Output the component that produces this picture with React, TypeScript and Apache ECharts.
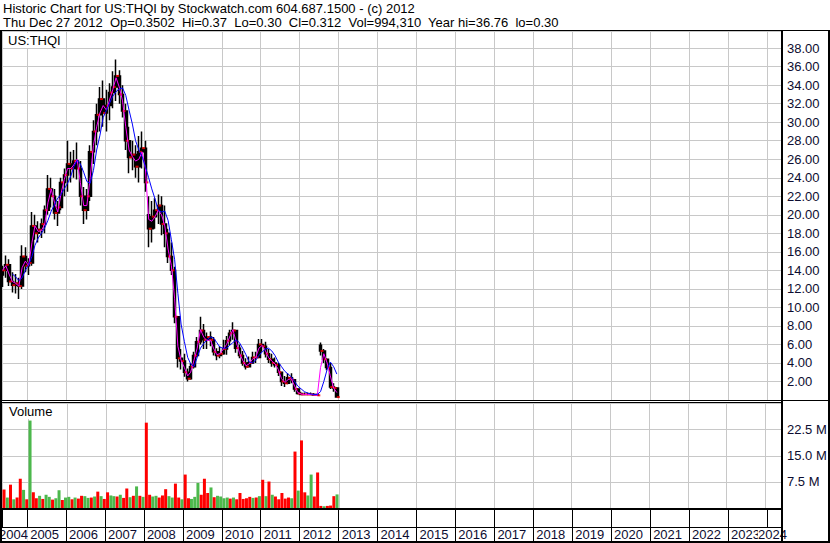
import React, { useEffect, useRef } from 'react';
import * as echarts from 'echarts';

// ---------- data (monthly, May 2004 .. Dec 2012) ----------
const FIRST_YEAR = 2004;
const FIRST_MONTH = 4; // May (0-based)

const opens = [
  13.5, 14.0, 14.6, 12.8, 12.4, 12.6, 12.3, 15.5,
  14.5, 14.8, 18.8, 18.0, 18.4, 19.0, 20.5, 22.8, 22.0, 20.2, 20.8, 23.5,
  24.3, 25.5, 25.0, 25.8, 25.0, 22.0, 20.5, 22.0, 26.8, 29.0, 30.8, 32.5,
  31.0, 31.8, 33.2, 33.8, 35.0, 33.0, 31.2, 28.0, 26.2, 26.5, 25.2, 26.8,
  27.2, 20.0, 18.5, 19.8, 20.5, 21.0, 19.0, 18.0, 15.5, 14.0, 9.0, 4.5,
  4.2, 3.0, 2.3, 3.6, 4.8, 6.3, 7.5, 6.5, 6.8, 6.5, 5.2, 4.8,
  5.0, 5.5, 6.4, 7.2, 7.5, 5.6, 4.8, 4.0, 3.6, 4.0, 4.6, 4.6,
  6.0, 5.8, 5.0, 4.4, 4.0, 3.8, 3.0, 2.0, 1.8, 2.4, 2.2, 1.2,
  0.7, 0.6, 0.6, 0.6, 0.6, 0.55, 5.9, 5.3, 4.4, 3.5, 1.4, 1.3,
];
const highs = [
  14.5, 15.6, 15.2, 13.8, 13.6, 13.2, 16.7, 16.5,
  15.3, 20.3, 20.0, 19.3, 19.6, 21.0, 24.3, 24.0, 22.8, 21.5, 24.0, 25.0,
  28.0, 26.8, 27.0, 27.8, 25.8, 23.0, 22.8, 27.5, 30.2, 32.0, 33.8, 34.5,
  33.5, 34.2, 35.5, 36.76, 35.6, 34.0, 32.0, 29.5, 28.0, 27.5, 28.5, 29.0,
  28.0, 22.0, 21.5, 21.8, 22.2, 22.0, 21.0, 18.5, 17.0, 14.4, 9.0, 5.5,
  5.0, 3.4, 4.0, 5.2, 6.8, 9.0, 8.2, 7.3, 7.4, 6.8, 5.6, 5.8,
  6.5, 6.9, 7.6, 8.4, 7.6, 6.0, 5.3, 4.5, 4.7, 5.2, 5.2, 6.6,
  6.6, 6.3, 5.5, 5.0, 4.6, 4.0, 3.0, 2.6, 2.9, 2.9, 2.2, 1.3,
  0.9, 0.8, 0.8, 0.8, 0.75, 0.75, 6.2, 5.5, 4.5, 4.0, 1.8, 1.4,
];
const lows = [
  12.2, 13.2, 12.3, 11.6, 11.5, 10.9, 12.0, 13.8,
  13.5, 14.5, 17.3, 17.0, 17.5, 18.0, 20.0, 20.8, 19.5, 18.8, 20.5, 22.0,
  22.5, 23.5, 24.0, 23.8, 21.0, 19.0, 19.5, 21.5, 25.5, 27.5, 29.0, 29.5,
  29.0, 30.2, 31.5, 32.3, 32.0, 30.5, 27.0, 24.5, 24.8, 24.0, 23.5, 25.0,
  22.5, 16.5, 17.0, 18.5, 19.0, 17.8, 16.5, 14.8, 13.5, 8.3, 3.5, 3.3,
  2.5, 2.0, 2.2, 3.4, 4.6, 6.0, 5.5, 5.5, 5.8, 4.8, 4.3, 4.5,
  4.9, 4.9, 5.9, 6.5, 5.1, 4.5, 3.7, 3.3, 3.5, 3.9, 4.0, 4.5,
  5.2, 4.6, 4.0, 3.6, 3.5, 2.6, 1.5, 1.4, 1.7, 1.8, 0.9, 0.6,
  0.5, 0.5, 0.5, 0.5, 0.45, 0.45, 4.8, 4.0, 3.2, 1.2, 0.9, 0.30,
];
const closes = [
  14.0, 14.6, 12.8, 12.4, 12.6, 12.3, 15.5, 14.5,
  14.8, 18.8, 18.0, 18.4, 19.0, 20.5, 22.8, 22.0, 20.2, 20.8, 23.5, 24.3,
  25.5, 25.0, 25.8, 25.0, 22.0, 20.5, 22.0, 26.8, 29.0, 30.8, 32.5, 31.0,
  31.8, 33.2, 33.8, 35.0, 33.0, 31.2, 28.0, 26.2, 26.5, 25.2, 26.8, 27.2,
  23.5, 18.5, 19.8, 20.5, 21.0, 19.0, 18.0, 15.5, 14.0, 9.0, 4.5, 4.2,
  3.0, 2.3, 3.6, 4.8, 6.3, 7.5, 6.5, 6.8, 6.5, 5.2, 4.8, 5.0,
  5.5, 6.4, 7.2, 7.5, 5.6, 4.8, 4.0, 3.6, 4.0, 4.6, 4.6, 6.0,
  5.8, 5.0, 4.4, 4.0, 3.8, 3.0, 2.0, 1.8, 2.4, 2.2, 1.2, 0.7,
  0.6, 0.6, 0.6, 0.6, 0.55, 0.5, 5.3, 4.4, 3.5, 1.4, 1.3, 0.312,
];
const shortAvg = [
  14.0, 14.5, 13.6, 12.8, 12.6, 12.3, 14.3, 15.0,
  14.5, 17.0, 18.8, 18.2, 18.3, 19.0, 21.3, 22.8, 21.3, 20.3, 22.3, 23.8,
  25.0, 25.0, 25.4, 26.0, 23.5, 21.0, 21.0, 24.0, 27.5, 29.5, 31.0, 31.8,
  31.3, 32.5, 33.5, 34.8, 33.8, 32.3, 29.5, 27.0, 26.3, 25.8, 26.0, 26.8,
  25.0, 19.5, 19.3, 19.8, 20.5, 20.0, 18.8, 16.3, 14.5, 11.0, 5.8, 4.3,
  3.5, 2.6, 3.0, 4.3, 5.6, 7.6, 6.8, 6.4, 6.5, 5.6, 4.9, 5.0,
  5.5, 6.0, 6.8, 7.6, 6.3, 5.1, 4.3, 3.7, 3.9, 4.4, 4.6, 5.6,
  5.9, 5.3, 4.6, 4.2, 3.9, 3.3, 2.3, 1.9, 2.2, 2.3, 1.5, 0.8,
  0.65, 0.6, 0.6, 0.6, 0.55, 0.5, 3.5, 5.0, 4.0, 2.6, 1.3, 0.8,
];
const longAvg = [
  null, null, null, 13.6, 13.3, 12.9, 13.2, 14.0,
  14.6, 15.5, 16.7, 17.5, 18.0, 18.6, 19.4, 20.4, 21.1, 21.8, 22.2, 22.8,
  23.4, 24.2, 25.2, 25.9, 25.5, 24.6, 23.6, 23.4, 24.8, 27.0, 28.6, 30.5,
  31.3, 32.1, 32.8, 33.3, 33.6, 33.7, 32.9, 31.3, 29.8, 28.0, 27.0, 26.3,
  25.2, 24.0, 22.8, 21.7, 20.5, 20.3, 20.4, 19.4, 17.3, 15.2, 11.5, 8.2,
  6.3, 4.6, 3.9, 3.6, 4.6, 5.6, 6.1, 6.5, 6.8, 6.7, 6.2, 5.7,
  5.6, 5.6, 5.9, 6.2, 6.5, 6.2, 5.6, 4.9, 4.1, 4.0, 4.3, 4.8,
  5.2, 5.5, 5.6, 5.3, 4.8, 4.1, 3.6, 3.1, 2.8, 2.5, 2.0, 1.5,
  1.2, 0.9, 0.75, 0.65, 0.6, 0.6, 0.9, 2.0, 3.3, 4.1, 3.6, 2.8,
];
// volume in millions of shares
const volumeM = [
  5.3, 3.0, 6.7, 2.5, 3.0, 8.4, 5.2, 2.5,
  25.1, 4.5, 2.8, 3.5, 2.6, 3.8, 3.2, 2.4, 2.8, 5.1, 2.3, 3.0,
  3.2, 2.5, 3.0, 2.7, 3.5, 3.4, 2.9, 3.0, 3.3, 4.7, 3.4, 2.6,
  4.5, 3.6, 3.4, 3.3, 3.8, 2.9, 5.6, 3.1, 3.5, 6.2, 3.5, 3.2,
  24.5, 3.8, 3.3, 3.5, 3.0, 3.6, 5.4, 3.4, 3.0, 7.0, 3.0, 2.5,
  9.6, 2.8, 2.6, 3.2, 7.2, 3.8, 8.4, 4.3, 5.9, 3.1, 3.5, 3.3,
  2.8, 3.0, 2.7, 3.0, 2.5, 4.3, 2.6, 2.8, 3.2, 2.9, 3.0, 3.4,
  8.1, 3.4, 7.6, 3.8, 3.3, 2.5, 4.3, 2.7, 3.0, 2.8, 16.2, 5.0,
  19.4, 4.5, 3.6, 9.6, 3.3, 10.2, 0.6, 0.5, 0.6, 0.7, 3.4, 3.9,
];
// 1 = up period (green), 0 = down period (red)
const volumeUp = [
  0, 1, 0, 1, 0, 0, 1, 0,
  1, 0, 0, 1, 0, 1, 1, 0, 1, 1, 0, 1,
  1, 0, 1, 0, 0, 1, 1, 0, 1, 0, 1, 0,
  0, 1, 1, 0, 1, 0, 0, 1, 0, 1, 0, 1,
  0, 0, 1, 1, 0, 0, 0, 1, 1, 0, 0, 1,
  0, 0, 1, 1, 1, 0, 0, 0, 1, 0, 1, 1,
  1, 1, 0, 1, 0, 0, 0, 0, 0, 1, 0, 1,
  0, 1, 0, 1, 0, 0, 0, 0, 0, 1, 0, 1,
  0, 0, 1, 1, 0, 0, 0, 1, 0, 0, 0, 1,
];

const headerLine1 = 'Historic Chart for US:THQI by Stockwatch.com 604.687.1500 - (c) 2012';
const headerLine2 = 'Thu Dec 27 2012  Op=0.3502  Hi=0.37  Lo=0.30  Cl=0.312  Vol=994,310  Year hi=36.76  lo=0.30';
const symbolLabel = 'US:THQI';
const volumeTitle = 'Volume';
const clampedYearLeft = '2004';
const clampedYearRight = '2024';

const axisStart = Date.UTC(2004, 4, 10);
const axisEnd = Date.UTC(2024, 4, 22);

// ---------- build ----------
const monthTimes = opens.map((_, i) => Date.UTC(FIRST_YEAR, FIRST_MONTH + i, 15));
const candleData = monthTimes.map((t, i) => [t, opens[i], closes[i], lows[i], highs[i]]);
const closeData = monthTimes.map((t, i) => [t, closes[i]]);
const shortData = monthTimes.map((t, i) => [t, shortAvg[i]]);
const longData = monthTimes.map((t, i) => [t, longAvg[i]]);
const volData = monthTimes.map((t, i) => ({
  value: [t, volumeM[i] * 1e6],
  itemStyle: { color: volumeUp[i] ? '#4cb84c' : '#ff0000' },
}));

const FONT = '"Liberation Sans", Arial, sans-serif';
const LABEL_COLOR = '#0c0c30';
const GRID_COLOR = '#c8c8c8';
const YEAR_MS = 365 * 24 * 3600 * 1000;
const YEAR_MS_MAX = 366 * 24 * 3600 * 1000;

const makeX = (gridIndex: number, labels: boolean) => ({
  type: 'time',
  gridIndex,
  min: axisStart,
  max: axisEnd,
  splitNumber: 20,
  minInterval: YEAR_MS,
  maxInterval: YEAR_MS_MAX,
  axisLine: { show: false },
  axisTick: { show: false },
  splitLine: { show: true, lineStyle: { color: labels ? '#000' : GRID_COLOR, width: 1 } },
  axisLabel: labels
    ? {
        show: true,
        inside: true,
        margin: 0,
        color: LABEL_COLOR,
        fontSize: 13,
        fontFamily: FONT,
        align: 'left',
        padding: [0, 0, 0, 3],
        showMinLabel: false,
        showMaxLabel: false,
        formatter: (v: number) => {
          const y = new Date(v).getUTCFullYear();
          return y === 2024 ? '' : String(y);
        },
      }
    : { show: false },
});

const frame = (extra: any) => ({ silent: true, z: 100, ...extra });

const option = {
  animation: false,
  useUTC: true,
  backgroundColor: '#ffffff',
  textStyle: { fontFamily: FONT },
  grid: [
    { left: 2, top: 31, width: 780, height: 369 },
    { left: 2, top: 403.5, width: 780, height: 104.5 },
    { left: 2, top: 510, width: 780, height: 31 },
  ],
  xAxis: [makeX(0, false), makeX(1, false), makeX(2, true)],
  yAxis: [
    {
      type: 'value',
      gridIndex: 0,
      position: 'right',
      min: 0,
      max: 39.85,
      interval: 2,
      axisLine: { show: false },
      axisTick: { show: false },
      splitLine: { show: true, lineStyle: { color: GRID_COLOR, width: 1 } },
      axisLabel: {
        show: true,
        showMinLabel: false,
        showMaxLabel: false,
        align: 'left',
        margin: 5,
        color: LABEL_COLOR,
        fontSize: 13,
        fontFamily: FONT,
        formatter: (v: number) => v.toFixed(2),
      },
    },
    {
      type: 'value',
      gridIndex: 1,
      position: 'right',
      min: 0,
      max: 30e6,
      interval: 7.5e6,
      axisLine: { show: false },
      axisTick: { show: false },
      splitLine: { show: true, lineStyle: { color: GRID_COLOR, width: 1 } },
      axisLabel: {
        show: true,
        showMinLabel: false,
        showMaxLabel: false,
        align: 'left',
        margin: 5,
        color: LABEL_COLOR,
        fontSize: 13,
        fontFamily: FONT,
        formatter: (v: number) => (v / 1e6).toFixed(1) + ' M',
      },
    },
    { type: 'value', gridIndex: 2, show: false, min: 0, max: 1 },
  ],
  series: [
    {
      type: 'candlestick',
      xAxisIndex: 0,
      yAxisIndex: 0,
      data: candleData,
      barWidth: 3,
      itemStyle: { color: '#000', color0: '#000', borderColor: '#000', borderColor0: '#000', borderWidth: 1.5 },
    },
    {
      type: 'scatter',
      xAxisIndex: 0,
      yAxisIndex: 0,
      data: closeData,
      symbol: 'rect',
      symbolSize: [3, 2],
      symbolOffset: [1.5, 0],
      itemStyle: { color: '#ff0000' },
      z: 3,
    },
    {
      type: 'line',
      xAxisIndex: 0,
      yAxisIndex: 0,
      data: shortData,
      showSymbol: false,
      lineStyle: { color: '#ff00ff', width: 1 },
      z: 4,
    },
    {
      type: 'line',
      xAxisIndex: 0,
      yAxisIndex: 0,
      data: longData,
      showSymbol: false,
      connectNulls: false,
      lineStyle: { color: '#0000ff', width: 1 },
      z: 5,
    },
    {
      type: 'bar',
      xAxisIndex: 1,
      yAxisIndex: 1,
      data: volData,
      barWidth: 3,
    },
  ],
  graphic: [
    { type: 'text', x: 3, y: 2, silent: true, style: { text: headerLine1, font: `13px ${FONT}`, fill: '#000', verticalAlign: 'top' } },
    { type: 'text', x: 3, y: 16, silent: true, style: { text: headerLine2, font: `13px ${FONT}`, fill: '#000', verticalAlign: 'top', whiteSpace: 'pre' } },
    frame({ type: 'text', x: 7, y: 33, style: { text: symbolLabel, font: `13px ${FONT}`, fill: '#000', verticalAlign: 'top', backgroundColor: '#fff', padding: [1, 1, 1, 1] } }),
    frame({ type: 'text', x: 8, y: 404, style: { text: volumeTitle, font: `13px ${FONT}`, fill: '#000', verticalAlign: 'top', backgroundColor: '#fff', padding: [1, 1, 1, 1] } }),
    frame({ type: 'text', x: -1, y: 528, style: { text: clampedYearLeft, font: `13px ${FONT}`, fill: LABEL_COLOR, verticalAlign: 'top', backgroundColor: '#fff' } }),
    frame({ type: 'text', x: 758, y: 528, style: { text: clampedYearRight, font: `13px ${FONT}`, fill: LABEL_COLOR, verticalAlign: 'top', backgroundColor: '#fff' } }),
    // frame lines
    frame({ type: 'line', shape: { x1: 0, y1: 30.5, x2: 830, y2: 30.5 }, style: { stroke: '#000', lineWidth: 1 } }),
    frame({ type: 'line', shape: { x1: 0, y1: 400.5, x2: 830, y2: 400.5 }, style: { stroke: '#000', lineWidth: 1 } }),
    frame({ type: 'line', shape: { x1: 0, y1: 402.5, x2: 782, y2: 402.5 }, style: { stroke: '#000', lineWidth: 1 } }),
    frame({ type: 'rect', shape: { x: 0, y: 508, width: 782, height: 2 }, style: { fill: '#000' } }),
    frame({ type: 'line', shape: { x1: 0, y1: 527.5, x2: 782, y2: 527.5 }, style: { stroke: '#000', lineWidth: 1 } }),
    frame({ type: 'rect', shape: { x: 0, y: 541, width: 830, height: 2 }, style: { fill: '#000' } }),
    frame({ type: 'rect', shape: { x: 0, y: 30, width: 2, height: 513 }, style: { fill: '#000' } }),
    frame({ type: 'rect', shape: { x: 781, y: 30, width: 2, height: 513 }, style: { fill: '#000' } }),
    frame({ type: 'rect', shape: { x: 828, y: 30, width: 2, height: 513 }, style: { fill: '#000' } }),
  ],
};

export default function App() {
  const ref = useRef<HTMLDivElement>(null);
  useEffect(() => {
    document.body.style.margin = '0';
    const chart = echarts.init(ref.current!, null, { renderer: 'svg' });
    chart.setOption(option as any);
    return () => chart.dispose();
  }, []);
  return <div ref={ref} style={{ position: 'absolute', left: 0, top: 0, width: 830, height: 543 }} />;
}
